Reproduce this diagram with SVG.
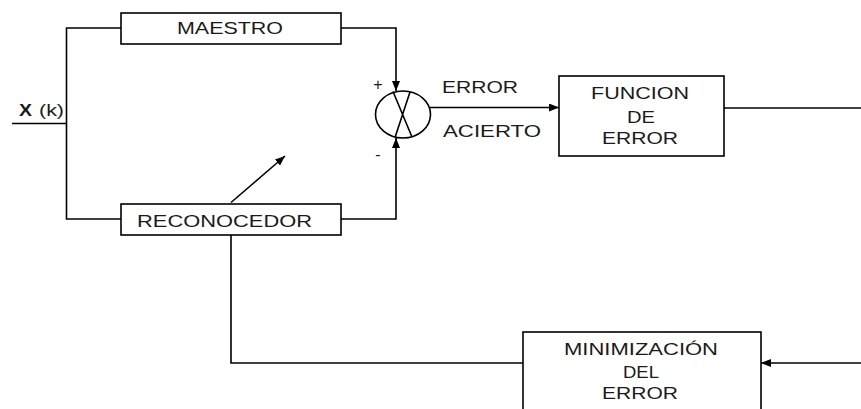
<svg xmlns="http://www.w3.org/2000/svg" width="861" height="409" viewBox="0 0 861 409">
<defs>
<style>
.box{fill:#fff;stroke:#000;stroke-width:1.6}
.ln{fill:none;stroke:#000;stroke-width:1.6}
.t{font-family:"Liberation Sans",Arial,sans-serif;font-size:17px;fill:#1a1a1a}
</style>
<marker id="ah" viewBox="0 0 10 8" refX="10" refY="4" markerWidth="10" markerHeight="8" markerUnits="userSpaceOnUse" orient="auto">
<path d="M0,0 L10,4 L0,8 Z" fill="#000"/>
</marker>
</defs>
<rect width="861" height="409" fill="#fff"/>
<g id="connectors">
<path class="ln" d="M12,123.5 H66.5"/>
<path class="ln" d="M121,28 H66.5 V219 H121"/>
<path class="ln" d="M341,28 H396 V91" marker-end="url(#ah)"/>
<path class="ln" d="M341,219 H396 V138" marker-end="url(#ah)"/>
<path class="ln" d="M430,107.5 H559" marker-end="url(#ah)"/>
<path class="ln" d="M724,108 H861"/>
<path class="ln" d="M861,363 H761" marker-end="url(#ah)"/>
<path class="ln" d="M231,235 V363 H523"/>
<path class="ln" d="M231,202.5 L285,156" marker-end="url(#ah)"/>
</g>
<g id="input">
<text class="t" x="19" y="116" style="font-weight:bold;font-size:16px" textLength="13" lengthAdjust="spacingAndGlyphs">X</text>
<text class="t" x="39" y="116" style="font-size:16px" textLength="25" lengthAdjust="spacingAndGlyphs">(k)</text>
</g>
<g id="maestro">
<rect class="box" x="121" y="13" width="220" height="31"/>
<text class="t" x="177" y="34" textLength="106" lengthAdjust="spacingAndGlyphs">MAESTRO</text>
</g>
<g id="reconocedor">
<rect class="box" x="121" y="204" width="220" height="31"/>
<text class="t" x="137" y="227" textLength="175" lengthAdjust="spacingAndGlyphs">RECONOCEDOR</text>
</g>
<g id="comparador">
<ellipse cx="403" cy="114.5" rx="27.5" ry="23.5" fill="#fff" stroke="#000" stroke-width="1.6"/>
<path class="ln" d="M393,91.5 L412,137 M410,92 L395,137.5"/>
<text class="t" x="378" y="90" text-anchor="middle" style="font-size:16px">+</text>
<text class="t" x="378" y="160" text-anchor="middle" style="font-size:16px">-</text>
<text class="t" x="442" y="93" textLength="76" lengthAdjust="spacingAndGlyphs">ERROR</text>
<text class="t" x="443" y="137" textLength="98" lengthAdjust="spacingAndGlyphs">ACIERTO</text>
</g>
<g id="funcion">
<rect class="box" x="559" y="76" width="165" height="80"/>
<text class="t" x="591" y="99" textLength="98" lengthAdjust="spacingAndGlyphs">FUNCION</text>
<text class="t" x="627" y="123" textLength="28" lengthAdjust="spacingAndGlyphs">DE</text>
<text class="t" x="602" y="144" textLength="76" lengthAdjust="spacingAndGlyphs">ERROR</text>
</g>
<g id="minimizacion">
<rect class="box" x="523" y="332" width="238" height="90"/>
<text class="t" x="564" y="355" textLength="154" lengthAdjust="spacingAndGlyphs">MINIMIZACIÓN</text>
<text class="t" x="623" y="378" textLength="36" lengthAdjust="spacingAndGlyphs">DEL</text>
<text class="t" x="602" y="399" textLength="76" lengthAdjust="spacingAndGlyphs">ERROR</text>
</g>
</svg>
